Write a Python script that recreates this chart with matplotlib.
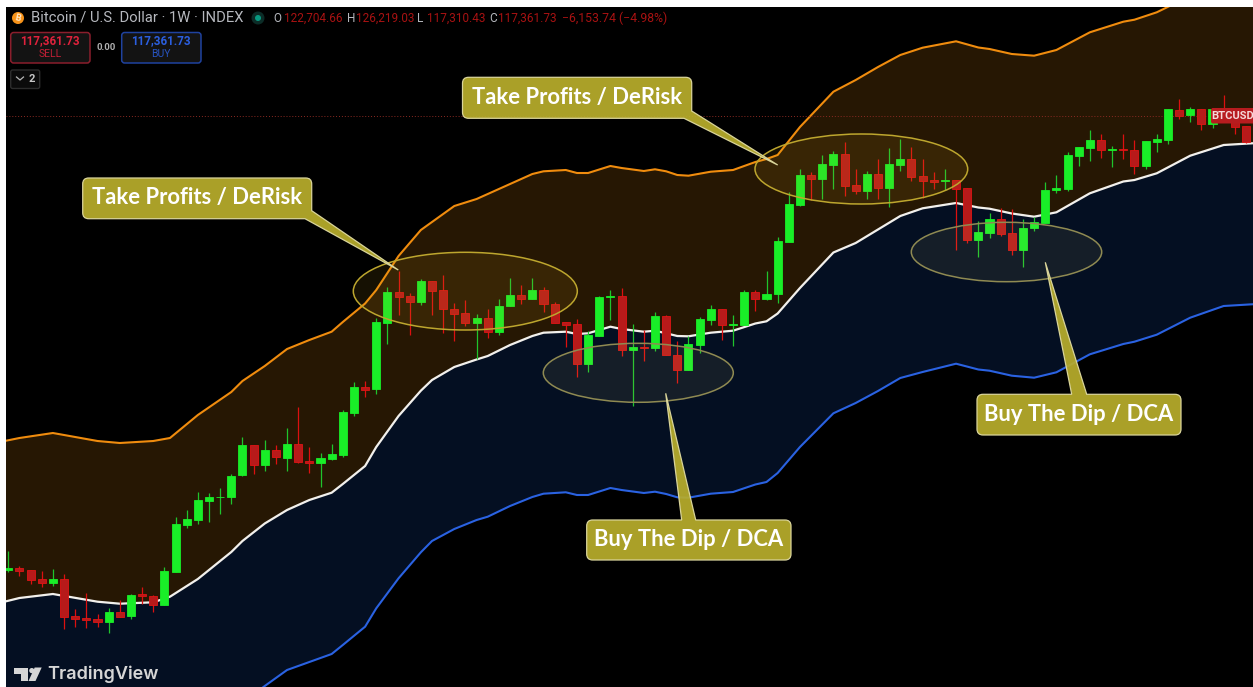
import numpy as np
import matplotlib
matplotlib.use("Agg")
import matplotlib.pyplot as plt
from matplotlib.patches import Ellipse, FancyBboxPatch, PathPatch, Polygon, Circle
from matplotlib.path import Path

W, H = 1253, 687
BAR_PX = 11.15      # width of one weekly bar
BAR0_PX = 8.3       # centre of first bar
LEFT, TOP = 6, 7    # white strip from the screenshot

opens = [569.5, 568.3, 570, 579, 582.7, 579, 616.3, 618, 619, 621.7,
         612, 616, 594.3, 595.7, 605.3, 571.7, 524.7, 519.7, 501, 497.3,
         497.3, 475.3, 445, 464.7, 450.3, 457.7, 444, 461.3, 462.7, 459.3,
         454.7, 412.7, 386.7, 389, 322.7, 292.3, 296, 301.7, 281.3, 290.3,
         308.7, 313.3, 322.7, 318, 331.7, 306.3, 295.3, 299, 289.7, 304.3,
         322.3, 324.3, 363.7, 335.7, 297, 296, 350, 346.7, 348.3, 316,
         355, 370, 344.7, 320, 309.3, 325, 325, 292, 298.7, 294.3,
         242, 205, 175, 178.7, 165, 154, 185, 191, 174, 187.7,
         165, 159.3, 176, 180.3, 181.3, 180.3, 188, 240, 233.3, 218.7,
         233.3, 250.3, 228.3, 222.7, 190, 188.7, 155.7, 147.7, 140, 150.3,
         149.3, 150, 166, 142, 139.7, 109.7, 115.3, 109, 124, 110,
         118, 126.3]
closes = [568.3, 571, 579.7, 583, 579.3, 617, 619, 619.7, 622, 612,
          616.7, 594.7, 595.7, 605.3, 571.3, 524, 519.3, 500, 497.3, 496.7,
          475.7, 445, 464.7, 450.3, 457.3, 444, 461.7, 462.7, 458.3, 454,
          412, 386.7, 390, 322.3, 292, 296.7, 301.7, 281.3, 290.7, 308.7,
          313.7, 322.7, 318, 331.7, 306, 295.3, 299, 289.7, 304.3, 322.7,
          324.7, 363.7, 335.3, 297, 296, 350, 346.7, 348.3, 316, 354.7,
          370, 344, 319.3, 309.3, 325, 324, 292, 298.7, 294, 241.3,
          204, 175, 178.7, 164, 154, 185.7, 191, 174, 187.7, 164,
          159.3, 176.7, 181, 181.7, 180.3, 188.7, 240, 232.3, 218.7, 233.7,
          250, 227.7, 222.3, 189.7, 187.7, 155, 147, 140, 150.3, 149.3,
          150.3, 165.7, 141.3, 138.7, 109.3, 115.7, 108.7, 124, 108.7, 118,
          126.7, 142.3]
highs = [551, 566, 570, 571, 569, 574.3, 609, 592.7, 614, 608.3,
         600, 594.3, 587.3, 595, 567.3, 517.3, 510, 492, 493.3, 488.3,
         474, 437.3, 445, 440, 445, 428.3, 407.3, 446.7, 452.7, 444,
         410, 382.3, 381, 318.3, 287.3, 270.7, 293.3, 279.3, 281.3, 275,
         303.3, 300.3, 314, 309.3, 298.7, 278.3, 285, 278.3, 286.7, 301.7,
         321.7, 318.7, 331.3, 295.7, 290, 287.7, 324, 330, 312, 315,
         340.7, 336, 316.7, 305, 309.3, 315, 290.3, 290.3, 271, 236.7,
         191.7, 169.3, 172.3, 155, 151.3, 141.7, 168.7, 171.3, 159.3, 148,
         139, 147, 159.3, 172.3, 169.3, 180, 187.7, 221, 213.3, 207.7,
         208.7, 219, 216.7, 182.3, 175, 152, 147, 130.3, 134, 146,
         134, 139.7, 141, 134, 109, 99, 107.3, 109, 108.7, 95,
         110, 125.7]
lows = [571.7, 576, 583.7, 586.7, 586, 629, 627, 628, 627, 633.3,
        617.3, 618.7, 604, 611.7, 605.3, 571.7, 528, 523.7, 521.7, 513.7,
        503.7, 476.3, 473.7, 471, 463.7, 470.7, 462.7, 472.7, 487.3, 460,
        456.7, 415.7, 397.3, 393.7, 343.7, 314.7, 334.7, 304.7, 314.7, 332.7,
        340.7, 325.7, 358.7, 338.3, 334.7, 306.3, 303.7, 299, 311.7, 322.7,
        347.3, 377.3, 371.7, 335.7, 320, 355.7, 405.7, 360.7, 351, 354.7,
        382.7, 370, 352.7, 325, 340, 345.7, 325, 310.7, 300, 302.7,
        242, 205.7, 200, 199.3, 188.7, 195.7, 194, 198.7, 198.7, 206.7,
        170.7, 181, 198.3, 188.7, 190, 250, 242.7, 256.7, 237.7, 235.7,
        255, 266.7, 230.7, 222.7, 193, 191, 166, 161, 157.7, 167,
        159.3, 174, 169.3, 151.7, 144, 119.3, 122.3, 130, 128.3, 120,
        134.3, 143.3]

# channel lines, same bar nodes for all three
band_bars = [-1, 1, 4, 8, 10, 13, 14.5, 17, 20, 21, 23, 25, 27, 29, 30, 32, 33, 35, 37, 38,
             40, 42, 43, 45, 47, 48, 50, 51, 52, 54, 55, 57, 58, 59, 60, 61, 63, 65, 67, 68,
             69, 71, 74, 76, 78, 80, 82, 85, 87, 88, 90, 92, 94, 97, 100, 101, 103, 106, 109, 112]
band_upper = [442.5, 438, 433, 441, 443, 441, 438, 415, 392, 381, 366, 349, 340, 331.7, 322, 303.5, 290, 256, 230, 222,
              206, 199, 194, 184, 174, 171.3, 170, 173, 173, 166, 168, 171, 169.3, 171.3, 175, 175.7, 171.7, 170, 162, 159,
              155, 127, 91.7, 80, 67, 55, 47.7, 41.3, 47.5, 49, 54, 55.7, 50, 32.3, 21.7, 19.7, 12.3, -4, -14, -16]
band_mid = [603.5, 598, 594, 601.7, 603.7, 602.3, 596.7, 579, 552, 541, 523.5, 510, 500, 492.7, 484, 466, 447, 416, 390.7, 380,
            367, 359.5, 356, 345, 336, 332.7, 331.7, 334, 333.3, 326.7, 329, 331.7, 330.7, 333.3, 336, 336.3, 332.7, 330.7, 323.5, 321.3,
            313.5, 288, 252.5, 243, 229.5, 216, 208.3, 203, 207.5, 208.7, 213.5, 216.7, 212.3, 193.3, 181.5, 180, 173.3, 155.7, 145, 143]
band_lower = [770, 765, 760, 770, 775, 770, 765, 745, 716, 703, 686, 670, 662, 654, 645, 626.7, 608.3, 578.3, 552.3, 541,
              529, 520, 516.7, 506, 497, 493.7, 492.3, 495, 495, 488, 490, 493, 491.7, 494, 497.3, 497.7, 493.7, 492, 484.5, 482,
              473, 447, 413.3, 403, 391, 378, 372, 363.7, 369.5, 370.7, 375.7, 377.7, 372.3, 354.3, 344, 341.7, 334.7, 317.7, 306, 304]
last_close_level = 116

symbol_title = "Bitcoin / U.S. Dollar · 1W · INDEX"
ohlc_labels = ["O", "H", "L", "C"]
ohlc_values = ["122,704.66", "126,219.03", "117,310.43", "117,361.73"]
change_text = "−6,153.74 (−4.98%)"
quote_price = "117,361.73"
spread_text = "0.00"
callout_top = "Take Profits / DeRisk"
callout_low = "Buy The Dip / DCA"

GREEN, GREEN_WICK = "#19ee28", "#1fc42c"
RED, RED_EDGE, RED_WICK = "#b71a1a", "#e01414", "#dc1010"
GOLD = "#b8ad2c"

plt.rcParams['font.family'] = ['Roboto', 'DejaVu Sans']

fig = plt.figure(figsize=(W / 100, H / 100), dpi=100, facecolor="white")

# price pane, black with the white screenshot strip left and on top
ax = fig.add_axes([LEFT / W, 0, 1 - LEFT / W, 1 - TOP / H], facecolor="black")
ax.set_xlim((LEFT - BAR0_PX) / BAR_PX, (W - BAR0_PX) / BAR_PX)
ax.set_ylim(H, TOP)
ax.set_xticks([])
ax.set_yticks([])
for sp in ax.spines.values():
    sp.set_visible(False)

ax.fill_between(band_bars, band_upper, band_mid, color="#261703", lw=0, zorder=1)
ax.fill_between(band_bars, band_mid, band_lower, color="#040f22", lw=0, zorder=1)
ax.plot(band_bars, band_upper, color="#f08c0e", lw=1.5, zorder=2)
ax.plot(band_bars, band_lower, color="#2a62e2", lw=1.5, zorder=2)
ax.plot(band_bars, band_mid, color="#f2f0ec", lw=1.6, zorder=2)
ax.axhline(last_close_level, color="#8c2a22", lw=0.7, ls=(0, (1, 2)), zorder=2)

for i, (o, c, hi, lo) in enumerate(zip(opens, closes, highs, lows)):
    up = c <= o
    ax.plot([i, i], [hi, lo], color=GREEN_WICK if up else RED_WICK, lw=0.9, zorder=3, solid_capstyle="butt")
    ax.bar(i, abs(o - c), bottom=min(o, c), width=0.72,
           color=GREEN if up else RED, edgecolor=GREEN if up else RED_EDGE, lw=0.6, zorder=4)

# overlay in screen pixels for the drawn annotations and the TradingView header
ov = fig.add_axes([0, 0, 1, 1], facecolor="none")
ov.set_xlim(0, W)
ov.set_ylim(H, 0)
ov.axis("off")

for x0, x1, y0, y1, face, alpha, edge in [
    (353.3, 577.3, 252.3, 330, "#d8aa20", 0.1, "#bda62e"),
    (755, 967.7, 134, 204, "#d8aa20", 0.1, "#bda62e"),
    (543.3, 733.3, 343.3, 402.3, "#ffe880", 0.07, "#8f8a52"),
    (911.3, 1101.7, 222.3, 281.7, "#ffe880", 0.07, "#8f8a52"),
]:
    ov.add_patch(Ellipse(((x0 + x1) / 2, (y0 + y1) / 2), x1 - x0, y1 - y0,
                         facecolor=matplotlib.colors.to_rgba(face, alpha), edgecolor=edge, lw=1.1))


def callout(l, t, r, b, a, tip, c, on_top, text, rad=6):
    # one outline for box and tail, so no seam shows at the tail base
    verts = [(l + rad, t)]
    codes = [Path.MOVETO]
    if on_top:
        verts += [a, tip, c]
        codes += [Path.LINETO] * 3
    verts += [(r - rad, t), (r, t), (r, t + rad)]
    codes += [Path.LINETO, Path.CURVE3, Path.CURVE3]
    if on_top:
        verts += [(r, b - rad), (r, b), (r - rad, b)]
        codes += [Path.LINETO, Path.CURVE3, Path.CURVE3]
    else:
        verts += [a, tip, c]
        codes += [Path.LINETO] * 3
    verts += [(l + rad, b), (l, b), (l, b - rad), (l, t + rad), (l, t), (l + rad, t), (l + rad, t)]
    codes += [Path.LINETO, Path.CURVE3, Path.CURVE3, Path.LINETO, Path.CURVE3, Path.CURVE3, Path.CLOSEPOLY]
    ov.add_patch(PathPatch(Path(verts, codes), facecolor=matplotlib.colors.to_rgba(GOLD, 0.93),
                           edgecolor="#d9d49a", lw=0.9))
    ov.text((l + r) / 2, (t + b) / 2 - 0.5, text, color="white", fontsize=15.8, fontweight="bold",
            ha="center", va="center", family="Lato")


callout(82.7, 178, 311.7, 218.7, (311.7, 210.7), (398.3, 270), (305, 218.7), False, callout_top)
callout(462.5, 77.3, 691.7, 118.3, (691.7, 111), (777.7, 165), (684, 118.3), False, callout_top)
callout(586.7, 520, 791, 560, (681.7, 520), (665.7, 393.3), (695.7, 520), True, callout_low)
callout(977, 394.3, 1181, 435, (1071.7, 394.3), (1045.3, 262.3), (1086.7, 394.3), True, callout_low)

# last price tag on the right edge
ov.add_patch(FancyBboxPatch((1211, 108), 50, 15.5, boxstyle="round,pad=0,rounding_size=2",
                            facecolor="#b71c1f", edgecolor="none"))
ov.text(1233, 116.3, "BTCUSD", color="#f5d9d9", fontsize=8, fontweight="bold", ha="center", va="center")

# legend header
ov.add_patch(Circle((18, 18), 6, facecolor="#f7931a", edgecolor="none"))
ov.text(18, 18, "B", color="#ffe9c9", fontsize=6.5, fontweight="bold", ha="center", va="center", rotation=-12)
ov.text(31, 18, symbol_title, color="#b6b8be", fontsize=10.6, ha="left", va="center")
ov.add_patch(Circle((258, 18), 6.5, facecolor="#0c2c27", edgecolor="none"))
ov.add_patch(Circle((258, 18), 3, facecolor="#089981", edgecolor="none"))
label_x = [273.7, 346.7, 417.5, 489]
value_x = [283.7, 355.7, 427, 498]
for lab, lx, val, vx in zip(ohlc_labels, label_x, ohlc_values, value_x):
    ov.text(lx, 18, lab, color="#b6b8be", fontsize=8.5, ha="left", va="center")
    ov.text(vx, 18, val, color="#a81212", fontsize=8.5, ha="left", va="center")
ov.text(561.5, 18, change_text, color="#a81212", fontsize=8.8, ha="left", va="center")

for x0, x1, edge, col, side in [(10.7, 90, "#8a1e2c", "#e0223c", "SELL"), (121.7, 201, "#1f429f", "#2b5fe0", "BUY")]:
    ov.add_patch(FancyBboxPatch((x0, 32.5), x1 - x0, 30.5, boxstyle="round,pad=0,rounding_size=3",
                                facecolor="#131313", edgecolor=edge, lw=1.1))
    ov.text((x0 + x1) / 2, 41, quote_price, color=col, fontsize=8.4, fontweight="bold", ha="center", va="center")
    ov.text((x0 + x1) / 2, 54.3, side, color=col, fontsize=7.5, alpha=0.85, ha="center", va="center")
ov.text(105.7, 47.5, spread_text, color="#b0b0b0", fontsize=6.8, fontweight="bold", ha="center", va="center")

ov.add_patch(FancyBboxPatch((10.7, 70), 29, 18.5, boxstyle="round,pad=0,rounding_size=2",
                            facecolor="#0b0b0b", edgecolor="#2c2c2c", lw=1))
ov.plot([16.5, 20, 23.5], [77, 80, 77], color="#b8b8b8", lw=0.9)
ov.text(31.5, 78.7, "2", color="#c8c8c8", fontsize=8, fontweight="bold", ha="center", va="center")

# TradingView mark
logo = "#d6d6d6"
ov.add_patch(Polygon([(14, 667.5), (28, 667.5), (28, 681), (20.7, 681), (20.7, 674), (14, 674)], facecolor=logo, edgecolor="none"))
ov.add_patch(Circle((31.8, 670.6), 2.6, facecolor=logo, edgecolor="none"))
ov.add_patch(Polygon([(41.7, 667.5), (35.5, 681), (28.5, 681), (34.7, 667.5)], facecolor=logo, edgecolor="none"))
ov.text(47, 674.5, "TradingView", color=logo, fontsize=13, fontweight="semibold", ha="left", va="center", family="Inter")

fig.savefig("out.png", dpi=100)
